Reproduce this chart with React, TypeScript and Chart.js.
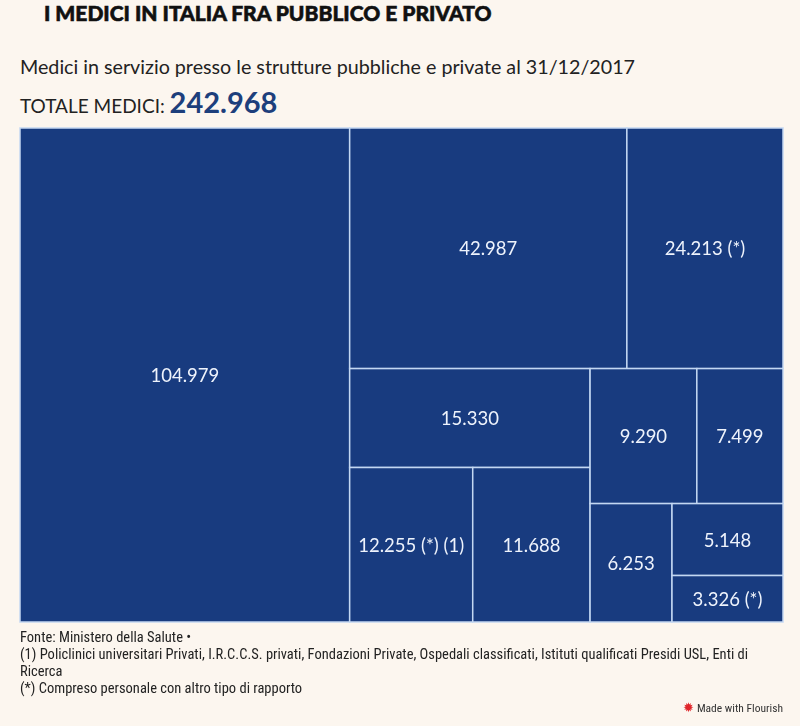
import React, { useEffect, useRef } from "react";
import { Chart, registerables } from "chart.js";

Chart.register(...registerables);

// ---- Data ----
const values = [104979, 42987, 24213, 15330, 12255, 11688, 9290, 7499, 6253, 5148, 3326];
const notes = ["", "", " (*)", "", " (*) (1)", "", "", "", "", "", " (*)"];
const totalLabel = "242.968";

// Nested slice/dice structure of the treemap (indices into values)
type Node = number | { dir: "h" | "v"; children: Node[] };
const layoutTree: Node = {
  dir: "h",
  children: [
    0,
    {
      dir: "v",
      children: [
        { dir: "h", children: [1, 2] },
        {
          dir: "h",
          children: [
            { dir: "v", children: [3, { dir: "h", children: [4, 5] }] },
            {
              dir: "v",
              children: [
                { dir: "h", children: [6, 7] },
                { dir: "h", children: [8, { dir: "v", children: [9, 10] }] },
              ],
            },
          ],
        },
      ],
    },
  ],
};

const fmt = (v: number) => String(v).replace(/\B(?=(\d{3})+(?!\d))/g, ".");

function sumNode(n: Node): number {
  if (typeof n === "number") return values[n];
  return n.children.reduce((a, c) => a + sumNode(c), 0);
}

type Rect = { i: number; x0: number; y0: number; x1: number; y1: number };
function layout(n: Node, x0: number, y0: number, x1: number, y1: number, out: Rect[]) {
  if (typeof n === "number") {
    out.push({ i: n, x0, y0, x1, y1 });
    return;
  }
  const total = sumNode(n);
  let pos = n.dir === "h" ? x0 : y0;
  for (const c of n.children) {
    const frac = sumNode(c) / total;
    if (n.dir === "h") {
      const w = (x1 - x0) * frac;
      layout(c, pos, y0, pos + w, y1, out);
      pos += w;
    } else {
      const h = (y1 - y0) * frac;
      layout(c, x0, pos, x1, pos + h, out);
      pos += h;
    }
  }
}

const FILL = "#183b7f";
const BORDER = "#c3d7f2";
const LABEL = "#eef3fc";

const treemapPlugin = {
  id: "treemapCells",
  afterDatasetsDraw(chart: any) {
    const { ctx, scales } = chart;
    const xs = scales.x;
    const ys = scales.y;
    const rects: Rect[] = [];
    layout(layoutTree, 0, 0, 1, 1, rects);
    ctx.save();
    for (const r of rects) {
      const px0 = xs.getPixelForValue(r.x0);
      const px1 = xs.getPixelForValue(r.x1);
      const py0 = ys.getPixelForValue(r.y0);
      const py1 = ys.getPixelForValue(r.y1);
      ctx.fillStyle = FILL;
      ctx.fillRect(px0, py0, px1 - px0, py1 - py0);
      ctx.strokeStyle = BORDER;
      ctx.lineWidth = 1.5;
      ctx.strokeRect(px0, py0, px1 - px0, py1 - py0);
      ctx.fillStyle = LABEL;
      ctx.font = "18.5px Lato, 'Noto Sans', sans-serif";
      ctx.textAlign = "center";
      ctx.textBaseline = "middle";
      ctx.fillText(fmt(values[r.i]) + notes[r.i], (px0 + px1) / 2, (py0 + py1) / 2 + 1);
    }
    ctx.restore();
  },
};

export default function App() {
  const ref = useRef<HTMLCanvasElement | null>(null);
  useEffect(() => {
    if (!ref.current) return;
    const chart = new Chart(ref.current, {
      type: "scatter",
      data: { datasets: [{ data: [], pointRadius: 0 }] },
      options: {
        animation: false,
        responsive: false,
        events: [],
        layout: { padding: { left: 20, top: 128, right: 17, bottom: 104 } },
        plugins: { legend: { display: false }, tooltip: { enabled: false } },
        scales: {
          x: { type: "linear", min: 0, max: 1, display: false },
          y: { type: "linear", min: 0, max: 1, reverse: true, display: false },
        },
      },
      plugins: [treemapPlugin],
    });
    return () => chart.destroy();
  }, []);

  const bodyFont = "Lato, 'Noto Sans', sans-serif";
  const narrow = "'Liberation Sans Narrow', 'Roboto Condensed', Lato, sans-serif";
  return (
    <div
      style={{
        position: "fixed",
        left: 0,
        top: 0,
        width: 800,
        height: 726,
        background: "#fcf6ef",
        overflow: "hidden",
        fontFamily: bodyFont,
      }}
    >
      <div
        style={{
          position: "absolute",
          left: 44,
          top: 0,
          fontSize: 21,
          fontWeight: 900,
          color: "#111",
          whiteSpace: "nowrap",
          WebkitTextStroke: "0.6px #111",
        }}
      >
        I MEDICI IN ITALIA FRA PUBBLICO E PRIVATO
      </div>
      <div style={{ position: "absolute", left: 20, top: 55, fontSize: 19.7, color: "#222", whiteSpace: "nowrap" }}>
        Medici in servizio presso le strutture pubbliche e private al 31/12/2017
      </div>
      <div style={{ position: "absolute", left: 20, top: 84, fontSize: 19, color: "#222", whiteSpace: "nowrap" }}>
        TOTALE MEDICI:{" "}
        <span style={{ fontSize: 29, fontWeight: 700, color: "#1d3f7c" }}>{totalLabel}</span>
      </div>
      <canvas ref={ref} width={800} height={726} style={{ position: "absolute", left: 0, top: 0 }} />
      <div
        style={{
          position: "absolute",
          left: 20,
          top: 629,
          fontSize: 14.5,
          lineHeight: "17px",
          color: "#222",
          fontFamily: narrow,
          whiteSpace: "nowrap",
        }}
      >
        <div>Fonte: Ministero della Salute •</div>
        <div>
          (1) Policlinici universitari Privati, I.R.C.C.S. privati, Fondazioni Private, Ospedali classificati, Istituti
          qualificati Presidi USL, Enti di
        </div>
        <div>Ricerca</div>
        <div>(*) Compreso personale con altro tipo di rapporto</div>
      </div>
      <div
        style={{
          position: "absolute",
          right: 17,
          top: 700,
          fontSize: 11.5,
          color: "#333",
          fontFamily: narrow,
          whiteSpace: "nowrap",
        }}
      >
        <span style={{ color: "#e0262b", fontSize: 13, marginRight: 3, fontFamily: "DejaVu Sans" }}>✹</span>
        Made with Flourish
      </div>
    </div>
  );
}
